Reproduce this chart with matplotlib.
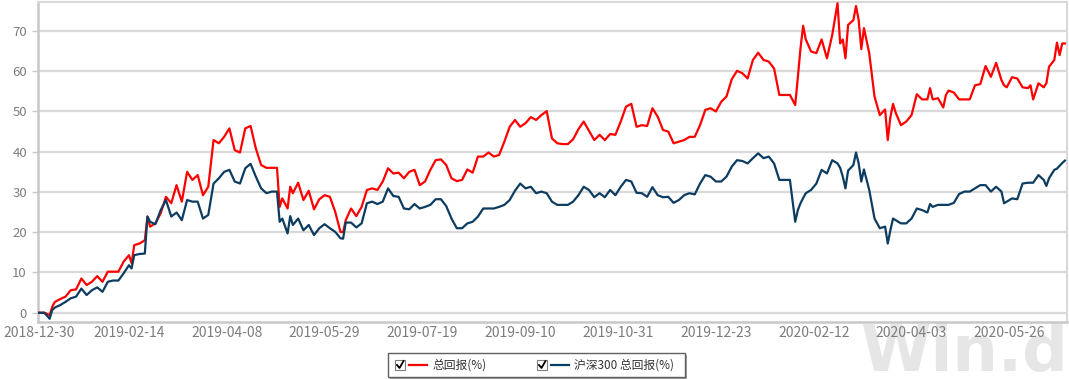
import numpy as np
import pandas as pd
import matplotlib
matplotlib.use("Agg")
import matplotlib.pyplot as plt
from matplotlib.patches import Rectangle
from matplotlib.lines import Line2D

plt.rcParams['font.family'] = ['Noto Sans CJK SC', 'DejaVu Sans']

# trading-day index (0 = 2018-12-30, then weekdays)
day_idx = [0, 2, 4, 5, 6, 8, 10, 12, 14, 16, 18, 20, 22, 24, 26, 28, 30, 32, 34, 35,
           36, 38, 40, 41, 42, 44, 46, 48, 50, 52, 54, 56, 58, 60, 62, 64, 66, 68, 70, 72,
           74, 76, 78, 80, 82, 84, 86, 88, 90, 91, 92, 94, 95, 96, 98, 100, 102, 104, 106, 108,
           110, 112, 114, 115, 116, 118, 120, 122, 124, 126, 128, 130, 132, 134, 136, 138, 140, 142, 144, 146,
           148, 150, 152, 154, 156, 158, 160, 162, 164, 166, 168, 170, 172, 174, 176, 178, 180, 182, 184, 186,
           188, 190, 192, 194, 196, 198, 200, 202, 204, 206, 208, 210, 212, 214, 216, 218, 220, 222, 224, 226,
           228, 230, 232, 234, 236, 238, 240, 242, 244, 246, 248, 250, 252, 254, 256, 258, 260, 262, 264, 266,
           268, 270, 272, 274, 276, 278, 280, 282, 284, 286, 287, 288, 289, 290, 292, 294, 296, 298, 300, 302,
           303, 304, 305, 306, 308, 309, 310, 311, 312, 314, 316, 318, 320, 321, 322, 323, 324, 326, 328, 330,
           332, 334, 336, 337, 338, 340, 342, 343, 344, 346, 348, 350, 352, 354, 356, 358, 360, 362, 364, 365,
           366, 368, 370, 372, 374, 375, 376, 378, 380, 381, 382, 384, 385, 386, 387, 388]

total_return = [0, 0, -0.6, 1.5, 2.7, 3.4, 4.0, 5.6, 5.8, 8.5, 6.9, 7.7, 9.1, 7.7, 10.2, 10.2, 10.2, 12.7, 14.3, 12.3,
                16.8, 17.2, 18.0, 23.9, 21.4, 22.2, 24.7, 28.8, 27.2, 31.7, 27.6, 35.0, 33.0, 34.2, 29.2, 31.3, 42.9, 42.1, 43.7, 45.8,
                40.4, 39.8, 45.8, 46.4, 40.8, 36.7, 36.0, 36.0, 36.0, 26.3, 28.4, 25.9, 31.3, 29.7, 32.3, 28.0, 30.3, 25.7, 28.2, 29.2,
                28.8, 25.1, 20.1, 20.0, 23.0, 25.9, 24.0, 26.3, 30.5, 30.9, 30.5, 32.6, 35.9, 34.6, 34.8, 33.4, 35.0, 35.5, 31.7, 32.6,
                35.5, 37.9, 38.1, 36.7, 33.4, 32.7, 33.0, 35.6, 34.8, 38.8, 38.8, 39.8, 38.8, 39.2, 42.5, 46.2, 47.9, 46.2, 47.1, 48.6,
                47.9, 49.1, 50.1, 43.3, 42.1, 41.9, 41.9, 43.1, 45.6, 47.5, 45.2, 42.9, 44.2, 42.9, 44.4, 44.2, 47.5, 51.2, 51.9, 46.2,
                46.6, 46.4, 50.8, 48.7, 45.4, 45.0, 42.1, 42.5, 42.9, 43.7, 43.7, 46.6, 50.4, 50.8, 50.0, 52.4, 53.7, 58.0, 60.1, 59.5,
                58.2, 62.8, 64.6, 62.8, 62.4, 60.7, 54.1, 54.1, 54.1, 51.6, 58.5, 65.7, 71.3, 67.9, 64.9, 64.5, 67.9, 63.2, 69.0, 76.9,
                66.9, 67.9, 63.2, 71.5, 72.7, 76.2, 72.7, 65.5, 70.7, 64.5, 53.7, 49.1, 50.5, 42.9, 48.6, 51.9, 49.7, 46.6, 47.5, 49.1,
                54.3, 53.0, 53.0, 55.8, 53.0, 53.3, 51.0, 54.1, 55.2, 54.7, 53.0, 53.0, 53.0, 56.5, 56.8, 61.3, 58.6, 62.1, 57.8, 56.5,
                56.0, 58.5, 58.2, 56.0, 55.8, 56.5, 53.0, 57.0, 56.0, 57.0, 61.1, 62.8, 67.1, 64.0, 66.9, 66.9]

hs300_return = [0, 0, -1.5, 0.7, 1.3, 1.9, 2.7, 3.6, 4.0, 6.0, 4.4, 5.6, 6.3, 5.2, 7.7, 8.0, 8.0, 9.8, 11.8, 11.0,
                14.3, 14.6, 14.7, 23.9, 22.6, 22.0, 25.5, 28.0, 23.9, 24.9, 23.0, 28.0, 27.6, 27.6, 23.4, 24.3, 32.1, 33.4, 35.0, 35.5,
                32.6, 32.1, 35.9, 37.0, 33.8, 30.9, 29.7, 30.1, 30.1, 22.6, 23.4, 19.7, 24.0, 21.8, 23.4, 20.5, 21.8, 19.3, 21.0, 22.0,
                21.0, 20.1, 18.5, 18.4, 22.4, 22.4, 21.2, 22.2, 27.2, 27.6, 27.0, 27.6, 30.9, 29.0, 28.8, 25.9, 25.7, 27.0, 25.9, 26.3,
                26.8, 28.2, 28.2, 26.5, 23.4, 21.0, 21.0, 22.2, 22.6, 23.9, 25.9, 25.9, 25.9, 26.3, 26.8, 28.0, 30.3, 32.1, 30.9, 31.3,
                29.7, 30.1, 29.7, 27.6, 26.8, 26.8, 26.8, 27.6, 29.2, 31.3, 30.5, 28.7, 29.7, 28.7, 30.5, 29.2, 31.3, 33.0, 32.6, 29.8,
                29.7, 28.8, 31.2, 29.2, 28.7, 28.8, 27.3, 28.0, 29.2, 29.7, 29.4, 32.1, 34.2, 33.8, 32.6, 32.6, 33.8, 36.3, 37.9, 37.7,
                37.1, 38.4, 39.6, 38.4, 38.8, 37.1, 33.0, 33.0, 33.0, 22.6, 25.5, 27.2, 28.5, 29.7, 30.5, 32.1, 35.5, 34.6, 37.9, 37.1,
                36.0, 33.8, 30.9, 35.3, 36.7, 39.8, 37.1, 32.6, 35.6, 30.5, 23.4, 21.0, 21.4, 17.2, 20.5, 23.4, 23.0, 22.2, 22.2, 23.4,
                25.9, 25.5, 24.9, 27.0, 26.3, 26.8, 26.8, 26.8, 26.8, 27.3, 29.5, 30.1, 30.1, 30.9, 31.7, 31.7, 30.1, 31.3, 30.1, 27.2,
                27.6, 28.4, 28.2, 32.1, 32.3, 32.3, 32.3, 34.2, 33.0, 31.5, 33.4, 35.5, 35.8, 36.5, 37.2, 37.8]

tick_labels = ['2018-12-30', '2019-02-14', '2019-04-08', '2019-05-29', '2019-07-19', '2019-09-10',
               '2019-10-31', '2019-12-23', '2020-02-12', '2020-04-03', '2020-05-26']
series_names = ['总回报(%)', '沪深300 总回报(%)']
colors = ['#ff0000', '#0d3c61']

cal = pd.DatetimeIndex([pd.Timestamp('2018-12-30')]).append(pd.bdate_range('2018-12-31', periods=400))
tick_pos = [cal.get_loc(pd.Timestamp(d)) for d in tick_labels]

W, H = 1069, 380
fig = plt.figure(figsize=(W / 100, H / 100), dpi=100)
ax = fig.add_axes([38 / W, 58 / H, 1029 / W, 320 / H])
ax.patch.set_alpha(0)

ax.plot(day_idx, total_return, color=colors[0], lw=1.6, zorder=3)
ax.plot(day_idx, hs300_return, color=colors[1], lw=1.6, zorder=4)

ax.set_xlim(-0.4, 388.8)
ax.set_ylim(-2.3, 77.2)
ax.set_yticks(range(0, 80, 10))
ax.set_xticks(tick_pos)
ax.set_xticklabels(tick_labels)
ax.yaxis.grid(True, color='#d9d9d9', lw=1.6)
ax.set_axisbelow(True)

for s in ['left', 'bottom']:
    ax.spines[s].set_color('#c8c8c8')
    ax.spines[s].set_linewidth(1.8)
for s in ['top', 'right']:
    ax.spines[s].set_color('#d9d9d9')
    ax.spines[s].set_linewidth(1.5)

ax.tick_params(axis='y', length=4, width=1, color='#c8c8c8', labelcolor='#7d7d7d', labelsize=9.5, pad=4)
ax.tick_params(axis='x', length=0, labelcolor='#7d7d7d', labelsize=10, pad=3)

# legend box with checkboxes
def fx(x):
    return x / W

def fy(y):
    return 1 - y / H

# watermark
fig.text(fx(860), fy(371), 'Win.d', fontsize=46, fontweight='bold', color='#e6e6e6',
         family='DejaVu Sans', va='baseline', zorder=-1)

fig.patches.append(Rectangle((fx(390), fy(379)), 297 / W, 24 / H, transform=fig.transFigure,
                             facecolor='#a0a0a0', edgecolor='none', zorder=1))
fig.patches.append(Rectangle((fx(388), fy(377)), 297 / W, 24 / H, transform=fig.transFigure,
                             facecolor='white', edgecolor='#606060', lw=1, zorder=2))

item_x = [395, 537]
for k in range(2):
    x0 = item_x[k]
    fig.patches.append(Rectangle((fx(x0), fy(370)), 10 / W, 10 / H, transform=fig.transFigure,
                                 facecolor='white', edgecolor='#808080', lw=0.8, zorder=3))
    fig.lines.append(Line2D([fx(x0 + 2), fx(x0 + 4.5), fx(x0 + 8.5)], [fy(365), fy(368), fy(361)],
                            transform=fig.transFigure, color='black', lw=1.3, zorder=4))
    fig.lines.append(Line2D([fx(x0 + 14), fx(x0 + 32)], [fy(365), fy(365)],
                            transform=fig.transFigure, color=colors[k], lw=1.6, zorder=4))
    fig.text(fx(x0 + 37), fy(365), series_names[k], fontsize=8.5, color='#333333',
             va='center', ha='left', zorder=5)

fig.savefig('out.png', dpi=100)
